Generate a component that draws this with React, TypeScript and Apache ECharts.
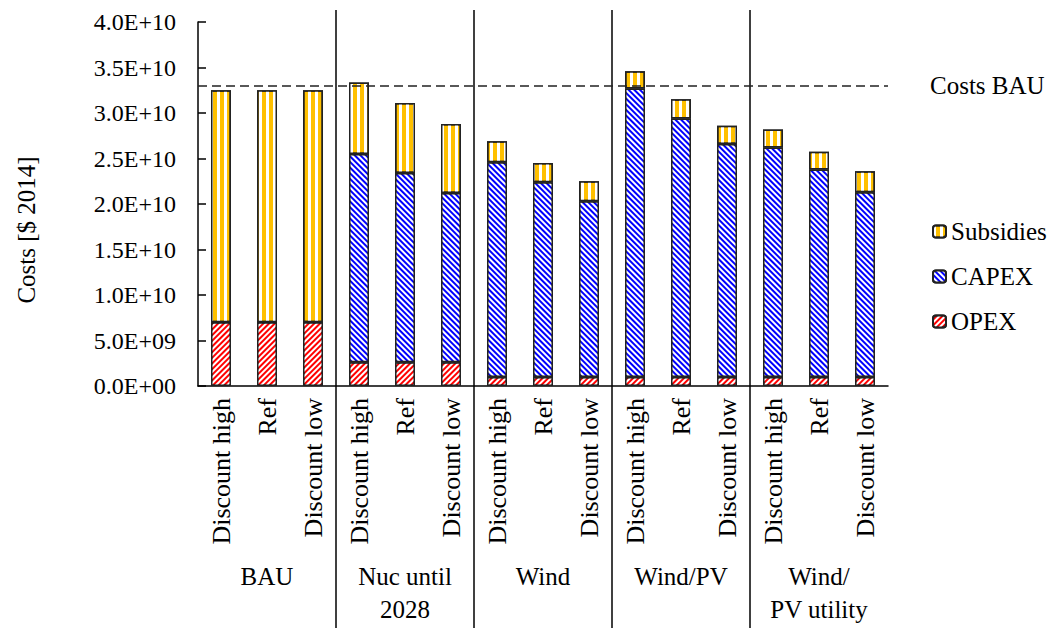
import React, { useEffect, useRef } from "react";
import * as echarts from "echarts";

const categories = [
  "Discount high", "Ref", "Discount low",
  "Discount high", "Ref", "Discount low",
  "Discount high", "Ref", "Discount low",
  "Discount high", "Ref", "Discount low",
  "Discount high", "Ref", "Discount low",
];
const groups = ["BAU", "Nuc until\n2028", "Wind", "Wind/PV", "Wind/\nPV utility"];

const opex = [7.0e9, 7.0e9, 7.0e9, 2.6e9, 2.6e9, 2.6e9, 1.0e9, 1.0e9, 1.0e9, 1.0e9, 1.0e9, 1.0e9, 1.0e9, 1.0e9, 1.0e9];
const capex = [0, 0, 0, 2.29e10, 2.08e10, 1.86e10, 2.36e10, 2.14e10, 1.93e10, 3.17e10, 2.84e10, 2.56e10, 2.52e10, 2.28e10, 2.03e10];
const subsidies = [2.55e10, 2.55e10, 2.55e10, 7.85e9, 7.7e9, 7.6e9, 2.3e9, 2.1e9, 2.2e9, 1.9e9, 2.1e9, 2.0e9, 2.0e9, 1.95e9, 2.3e9];
const costsBAU = 3.3e10;

const FONT = "Liberation Serif";
const FS = 24;
const FS_CAT = 26;
const FS_TXT = 25;

function fmt(v: number) {
  const [m, e] = v.toExponential(1).split("e");
  const sign = e[0] === "-" ? "-" : "+";
  const d = e.replace(/^[+-]/, "").padStart(2, "0");
  return `${m.toUpperCase()}E${sign}${d}`;
}

export default function App() {
  const ref = useRef<HTMLDivElement>(null);
  useEffect(() => {
    if (!ref.current) return;
    const chart = echarts.init(ref.current, undefined, { renderer: "svg" });
    const border = { borderColor: "#222", borderWidth: 1.5 };
    const option: any = {
      animation: false,
      textStyle: { fontFamily: FONT, color: "#000" },
      grid: { left: 198, right: 172, top: 22, bottom: 242 },
      legend: {
        orient: "vertical",
        left: 927,
        top: 214,
        itemWidth: 13,
        itemHeight: 12,
        itemGap: 20,
        data: ["Subsidies", "CAPEX", "OPEX"],
        textStyle: { fontFamily: FONT, fontSize: FS_TXT, color: "#000" },
      },
      xAxis: [
        {
          type: "category",
          data: categories,
          axisLine: { lineStyle: { color: "#000", width: 1.5 } },
          axisTick: { inside: true, length: 6, lineStyle: { color: "#000", width: 1.5 } },
          axisLabel: { interval: 0, rotate: 90, margin: 12, fontFamily: FONT, fontSize: FS_CAT, color: "#000" },
        },
        {
          type: "category",
          data: groups,
          position: "bottom",
          axisLine: { show: false },
          axisTick: { show: false },
          splitLine: { show: false },
          axisLabel: { interval: 0, margin: 174, fontFamily: FONT, fontSize: FS_TXT, lineHeight: 33, color: "#000" },
        },
      ],
      yAxis: {
        type: "value",
        min: 0,
        max: 4e10,
        interval: 5e9,
        splitLine: { show: false },
        axisLine: { show: true, lineStyle: { color: "#000", width: 1.5 } },
        axisTick: { show: true, inside: true, length: 8, lineStyle: { color: "#000", width: 1.5 } },
        axisLabel: { margin: 22, formatter: fmt, fontFamily: FONT, fontSize: FS, color: "#000" },
      },
      series: [
        {
          name: "OPEX",
          type: "bar",
          stack: "c",
          barWidth: 20,
          data: opex,
          itemStyle: {
            color: "#FF0000",
            ...border,
            decal: { symbol: "rect", symbolSize: 1, color: "#ffffff", dashArrayX: [1, 0], dashArrayY: [2, 2], rotation: -Math.PI / 4 },
          },
        },
        {
          name: "CAPEX",
          type: "bar",
          stack: "c",
          barWidth: 20,
          data: capex,
          itemStyle: {
            color: "#0000FF",
            ...border,
            decal: { symbol: "rect", symbolSize: 1, color: "#ffffff", dashArrayX: [1, 0], dashArrayY: [2, 2], rotation: Math.PI / 4 },
          },
        },
        {
          name: "Subsidies",
          type: "bar",
          stack: "c",
          barWidth: 20,
          data: subsidies,
          itemStyle: {
            color: "#FFC000",
            ...border,
            decal: { symbol: "rect", symbolSize: 1, color: "#ffffff", dashArrayX: [3, 4], dashArrayY: [10, 0], rotation: 0 },
          },
          markLine: {
            silent: true,
            symbol: "none",
            data: [{ yAxis: costsBAU, name: "Costs BAU" }],
            lineStyle: { type: [9, 5], color: "#222", width: 1.5 },
            label: { position: "end", distance: 42, formatter: "Costs BAU", fontFamily: FONT, fontSize: FS_TXT, color: "#000" },
          },
        },
      ],
    };
    chart.setOption(option);

    const px = (i: number) => chart.convertToPixel({ xAxisIndex: 0 }, i) as number;
    const lines: any[] = [];
    for (let g = 1; g < groups.length; g++) {
      const x = (px(3 * g - 1) + px(3 * g)) / 2;
      lines.push({
        type: "line",
        shape: { x1: x, y1: 10, x2: x, y2: 628 },
        style: { stroke: "#000", lineWidth: 1.5 },
        silent: true,
      });
    }
    lines.push({
      type: "text",
      x: 26,
      y: 230,
      rotation: Math.PI / 2,
      style: { text: "Costs [$ 2014]", fontFamily: FONT, fontSize: FS_TXT, fill: "#000", align: "center", verticalAlign: "middle" },
    });
    chart.setOption({ graphic: lines });

    return () => chart.dispose();
  }, []);
  return <div ref={ref} style={{ position: "absolute", left: 0, top: 0, width: 1060, height: 628 }} />;
}
